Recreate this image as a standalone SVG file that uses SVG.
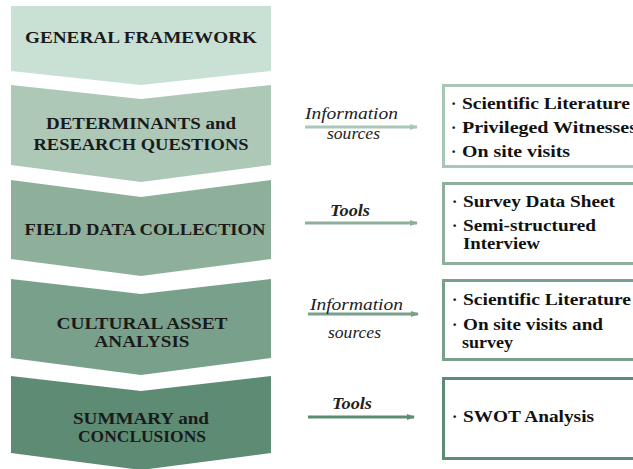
<svg xmlns="http://www.w3.org/2000/svg" width="633" height="469" viewBox="0 0 633 469" font-family="Liberation Serif, DejaVu Serif, Times New Roman, serif">
<style>
.step{font-weight:bold;font-size:17px;fill:#1a1a1a;text-anchor:middle}
.item{font-weight:bold;font-size:16px;fill:#111}
.lab{font-style:italic;font-size:16px;fill:#222}
.box{fill:#fff;stroke-width:3}
.conn{stroke-width:3;fill:none}
</style>
<defs>
<marker id="ah1" markerWidth="8" markerHeight="6" refX="7" refY="3" orient="auto" markerUnits="userSpaceOnUse"><path d="M0,0 L8,3 L0,6 z" fill="#a9c7b6"/></marker>
<marker id="ah2" markerWidth="8" markerHeight="6" refX="7" refY="3" orient="auto" markerUnits="userSpaceOnUse"><path d="M0,0 L8,3 L0,6 z" fill="#8eb09b"/></marker>
<marker id="ah3" markerWidth="8" markerHeight="6" refX="7" refY="3" orient="auto" markerUnits="userSpaceOnUse"><path d="M0,0 L8,3 L0,6 z" fill="#79a08a"/></marker>
<marker id="ah4" markerWidth="8" markerHeight="6" refX="7" refY="3" orient="auto" markerUnits="userSpaceOnUse"><path d="M0,0 L8,3 L0,6 z" fill="#5d8b73"/></marker>
</defs>
<rect width="633" height="469" fill="#fff"/>

<g id="step1">
<path d="M11,6 L271,6 L271,71 L141,85 L11,71 Z" fill="#c8e1d4"/>
<text class="step" x="141" y="43" textLength="232" lengthAdjust="spacingAndGlyphs">GENERAL FRAMEWORK</text>
</g>
<g id="step2">
<path d="M11,85 L141,99 L271,85 L271,165 L141,182 L11,165 Z" fill="#aec8b8"/>
<text class="step" x="141" y="129" textLength="190" lengthAdjust="spacingAndGlyphs">DETERMINANTS and</text>
<text class="step" x="141" y="150" textLength="215" lengthAdjust="spacingAndGlyphs">RESEARCH QUESTIONS</text>
</g>
<g id="step3">
<path d="M11,180 L141,197 L271,180 L271,259 L141,276 L11,259 Z" fill="#8eb09b"/>
<text class="step" x="145" y="235" textLength="241" lengthAdjust="spacingAndGlyphs">FIELD DATA COLLECTION</text>
</g>
<g id="step4">
<path d="M11,279 L141,294 L271,279 L271,358 L141,375 L11,358 Z" fill="#79a08a"/>
<text class="step" x="142" y="329" textLength="171" lengthAdjust="spacingAndGlyphs">CULTURAL ASSET</text>
<text class="step" x="142" y="347" textLength="95" lengthAdjust="spacingAndGlyphs">ANALYSIS</text>
</g>
<g id="step5">
<path d="M11,376 L141,391 L271,376 L271,453 L141,470 L11,453 Z" fill="#5d8b73"/>
<text class="step" x="141" y="424" textLength="136" lengthAdjust="spacingAndGlyphs">SUMMARY and</text>
<text class="step" x="142" y="442" textLength="128" lengthAdjust="spacingAndGlyphs">CONCLUSIONS</text>
</g>

<g id="box1">
<rect class="box" x="443.5" y="85.5" width="193" height="81" stroke="#a9c7b6"/>
<text class="item" y="109"><tspan x="451">·</tspan><tspan x="462" textLength="168" lengthAdjust="spacingAndGlyphs">Scientific Literature</tspan></text>
<text class="item" y="133"><tspan x="451">·</tspan><tspan x="462" textLength="175" lengthAdjust="spacingAndGlyphs">Privileged Witnesses</tspan></text>
<text class="item" y="157"><tspan x="451">·</tspan><tspan x="462" textLength="108" lengthAdjust="spacingAndGlyphs">On site visits</tspan></text>
</g>
<g id="box2">
<rect class="box" x="443.5" y="183.5" width="193" height="80" stroke="#8eb09b"/>
<text class="item" y="207"><tspan x="452">·</tspan><tspan x="463" textLength="152" lengthAdjust="spacingAndGlyphs">Survey Data Sheet</tspan></text>
<text class="item" y="231"><tspan x="452">·</tspan><tspan x="463" textLength="133" lengthAdjust="spacingAndGlyphs">Semi-structured</tspan></text>
<text class="item" y="249"><tspan x="463" textLength="77" lengthAdjust="spacingAndGlyphs">Interview</tspan></text>
</g>
<g id="box3">
<rect class="box" x="443.5" y="280.5" width="193" height="79" stroke="#79a08a"/>
<text class="item" y="305"><tspan x="452">·</tspan><tspan x="463" textLength="168" lengthAdjust="spacingAndGlyphs">Scientific Literature</tspan></text>
<text class="item" y="330"><tspan x="452">·</tspan><tspan x="463" textLength="140" lengthAdjust="spacingAndGlyphs">On site visits and</tspan></text>
<text class="item" y="348"><tspan x="462" textLength="51" lengthAdjust="spacingAndGlyphs">survey</tspan></text>
</g>
<g id="box4">
<rect class="box" x="443.5" y="378.5" width="193" height="80" stroke="#5d8b73"/>
<text class="item" y="422"><tspan x="452">·</tspan><tspan x="463" textLength="131" lengthAdjust="spacingAndGlyphs">SWOT Analysis</tspan></text>
</g>

<g id="connectors">
<line class="conn" x1="305" y1="127" x2="417" y2="127" stroke="#a9c7b6" marker-end="url(#ah1)"/>
<line class="conn" x1="305" y1="223" x2="417" y2="223" stroke="#8eb09b" marker-end="url(#ah2)"/>
<line class="conn" x1="308" y1="314" x2="418" y2="314" stroke="#79a08a" marker-end="url(#ah3)"/>
<line class="conn" x1="308" y1="417" x2="414" y2="417" stroke="#5d8b73" marker-end="url(#ah4)"/>
<text class="lab" x="305" y="119" textLength="93" lengthAdjust="spacingAndGlyphs">Information</text>
<text class="lab" x="327" y="139" textLength="53" lengthAdjust="spacingAndGlyphs">sources</text>
<text class="lab" x="330" y="216" font-weight="bold" textLength="40" lengthAdjust="spacingAndGlyphs">Tools</text>
<text class="lab" x="310" y="310" textLength="93" lengthAdjust="spacingAndGlyphs">Information</text>
<text class="lab" x="328" y="338" textLength="53" lengthAdjust="spacingAndGlyphs">sources</text>
<text class="lab" x="332" y="409" font-weight="bold" textLength="40" lengthAdjust="spacingAndGlyphs">Tools</text>
</g>
</svg>
